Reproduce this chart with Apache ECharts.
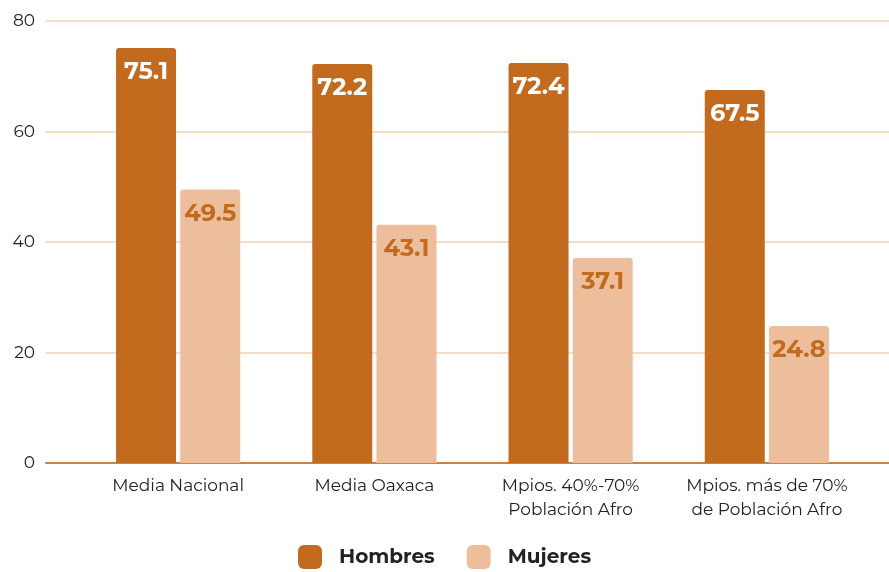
<!DOCTYPE html>
<html><head><meta charset="utf-8">
<script src="https://cdn.jsdelivr.net/npm/echarts@6/dist/echarts.min.js"></script>
<style>html,body{margin:0;padding:0;background:#fff}#c{width:889px;height:572px}</style>
</head><body><div id="c"></div>
<script>
const categories = ['Media Nacional', 'Media Oaxaca', 'Mpios. 40%-70%\nPoblación Afro', 'Mpios. más de 70%\nde Población Afro'];
const hombres = [75.1, 72.2, 72.4, 67.5];
const mujeres = [49.5, 43.1, 37.1, 24.8];
const yTicks = [0, 20, 40, 60, 80];

const C1 = '#C26B1F', C2 = '#EDBE9C';
const FONT = 'Montserrat, "Open Sans", Lato, sans-serif';
const chart = echarts.init(document.getElementById('c'));
const gTop = 21, gBottom = 572 - 463;
chart.setOption({
  animation: false,
  textStyle: {fontFamily: FONT},
  grid: [
    {left: 80, right: 24, top: gTop, bottom: gBottom},
    {left: 46, right: 0, top: gTop, bottom: gBottom}
  ],
  legend: {
    bottom: -2, left: 'center', itemWidth: 24, itemHeight: 24, itemGap: 32,
    textStyle: {fontSize: 20, fontWeight: 'bold', color: '#222', fontFamily: FONT, padding: [0, 0, 0, 12]},
    data: ['Hombres', 'Mujeres']
  },
  xAxis: [
    {type: 'category', gridIndex: 0, data: categories,
     axisLine: {show: false}, axisTick: {show: false},
     axisLabel: {fontSize: 17, color: '#222', lineHeight: 24, margin: 11, interval: 0}},
    {type: 'value', gridIndex: 1, min: 0, max: 1, show: true,
     axisLine: {show: true, lineStyle: {color: '#C98342', width: 2}},
     axisTick: {show: false}, axisLabel: {show: false}, splitLine: {show: false}}
  ],
  yAxis: [
    {type: 'value', gridIndex: 0, min: yTicks[0], max: yTicks[yTicks.length - 1], interval: 20, show: false, splitLine: {show: false}},
    {type: 'value', gridIndex: 1, min: yTicks[0], max: yTicks[yTicks.length - 1], interval: 20,
     axisLine: {show: false}, axisTick: {show: false},
     axisLabel: {fontSize: 17, color: '#222', margin: 11},
     splitLine: {lineStyle: {color: '#F3CFB3', width: 1.5}}}
  ],
  series: [
    {name: 'Hombres', type: 'bar', xAxisIndex: 0, yAxisIndex: 0, data: hombres, barWidth: 60, barGap: '7%', z: 3,
     itemStyle: {color: C1, borderRadius: [3, 3, 0, 0]},
     label: {show: true, position: 'insideTop', distance: 12, color: '#fff', fontSize: 24, fontWeight: 'bold', fontFamily: FONT}},
    {name: 'Mujeres', type: 'bar', xAxisIndex: 0, yAxisIndex: 0, data: mujeres, barWidth: 60, z: 3,
     itemStyle: {color: C2, borderRadius: [3, 3, 0, 0]},
     label: {show: true, position: 'insideTop', distance: 12, color: C1, fontSize: 24, fontWeight: 'bold', fontFamily: FONT}}
  ]
});
</script></body></html>
